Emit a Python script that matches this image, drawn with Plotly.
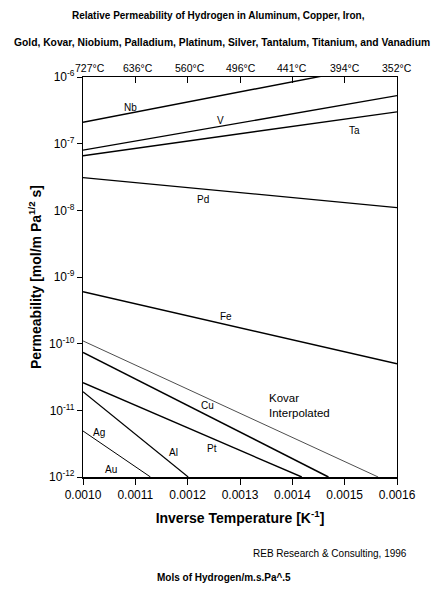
import plotly.graph_objects as go

# ---- data ----
materials = ["Nb", "V", "Ta", "Pd", "Fe", "Kovar", "Cu", "Pt", "Al", "Ag"]
x_start = [0.0010, 0.0010, 0.0010, 0.0010, 0.0010, 0.0010, 0.0010, 0.0010, 0.0010, 0.0010]
y_start = [2.1e-7, 8.0e-8, 6.6e-8, 3.1e-8, 6.0e-10, 1.1e-10, 7.4e-11, 2.6e-11, 1.9e-11, 4.9e-12]
x_end = [0.0016, 0.0016, 0.0016, 0.0016, 0.0016, 0.001564, 0.001469, 0.001418, 0.001201, 0.001129]
y_end = [1.7e-6, 5.25e-7, 3.0e-7, 1.1e-8, 5.0e-11, 1e-12, 1e-12, 1e-12, 1e-12, 1e-12]
line_widths = [1.4, 1.4, 1.4, 1.2, 1.4, 0.7, 1.6, 1.4, 1.2, 1.0]

label_text = ["Nb", "V", "Ta", "Pd", "Fe", "Kovar<br>Interpolated", "Cu", "Pt", "Al", "Ag", "Au"]
label_x = [0.00109, 0.001262, 0.001518, 0.001229, 0.001273, 0.001352, 0.001237, 0.0012465, 0.001172, 0.0010306, 0.0010535]
label_logy = [-6.45, -6.645, -6.795, -7.83, -9.598, -10.93, -10.93, -11.577, -11.637, -11.337, -11.892]
label_size = [10, 10, 10, 10, 10, 11.5, 10, 10, 10, 10, 10]

x_ticks = [0.0010, 0.0011, 0.0012, 0.0013, 0.0014, 0.0015, 0.0016]
x_tick_text = ["0.0010", "0.0011", "0.0012", "0.0013", "0.0014", "0.0015", "0.0016"]
top_tick_text = ["727°C", "636°C", "560°C", "496°C", "441°C", "394°C", "352°C"]
y_tick_exp = [-12, -11, -10, -9, -8, -7, -6]

FONT = "Liberation Sans, Arial, sans-serif"
W, H = 437, 593
ML, MR, MT, MB = 83, 40, 77, 116

fig = go.Figure()
for i, m in enumerate(materials):
    fig.add_trace(go.Scatter(
        x=[x_start[i], x_end[i]], y=[y_start[i], y_end[i]],
        mode="lines", line=dict(color="black", width=line_widths[i]),
        showlegend=False, hoverinfo="skip"))

# invisible trace so the top axis is drawn
fig.add_trace(go.Scatter(x=[x_ticks[0]], y=[1e-9], xaxis="x2", mode="markers",
                         marker=dict(opacity=0), showlegend=False, hoverinfo="skip"))

for t, lx, ly, ls in zip(label_text, label_x, label_logy, label_size):
    fig.add_annotation(x=lx, y=ly, text=t, showarrow=False,
                       xanchor="left" if "Kovar" in t else "center", align="left",
                       font=dict(family=FONT, size=ls, color="black"))

fig.update_layout(
    width=W, height=H,
    margin=dict(l=ML, r=MR, t=MT, b=MB),
    paper_bgcolor="white", plot_bgcolor="white",
    xaxis=dict(range=[0.0010, 0.0016], tickvals=x_ticks, ticktext=x_tick_text,
               ticks="outside", ticklen=6, tickcolor="black", showgrid=False, zeroline=False,
               showline=True, linecolor="black", linewidth=1.5,
               tickfont=dict(family=FONT, size=12, color="black"),
               title=dict(text="<b>Inverse Temperature [K<sup>-1</sup>]</b>", standoff=12,
                          font=dict(family=FONT, size=14, color="black"))),
    xaxis2=dict(range=[0.0010, 0.0016], overlaying="x", side="top",
                tickvals=x_ticks, showticklabels=False, ticks="inside", ticklen=6,
                tickcolor="black", showgrid=False, zeroline=False,
                showline=True, linecolor="black", linewidth=1.2),
    yaxis=dict(type="log", range=[-12, -6],
               tickvals=[10 ** e for e in y_tick_exp],
               ticktext=["10<sup>%d</sup>" % e for e in y_tick_exp],
               ticks="outside", ticklen=5, tickcolor="black", showgrid=False, zeroline=False,
               showline=True, linecolor="black", linewidth=1.2, mirror=True,
               tickfont=dict(family=FONT, size=12, color="black"),
               title=dict(text="<b>Permeability [mol/m Pa<sup>1/2</sup> s]</b>", standoff=4,
                          font=dict(family=FONT, size=14, color="black"))),
)


def ypx(py):
    return (H - MB - py) / (H - MT - MB)


def xpx(px):
    return (px - ML) / (W - ML - MR)


# top temperature labels
top_shift = [7, 3, 2, 1, 0, 0, 0]
for xv, t, s in zip(x_ticks, top_tick_text, top_shift):
    fig.add_annotation(x=xv, xref="x", yref="paper", y=ypx(68), text=t, showarrow=False,
                       xanchor="center", yanchor="middle", xshift=s,
                       font=dict(family=FONT, size=10.5, color="black"))

fig.add_annotation(xref="paper", yref="paper", x=xpx(218), y=ypx(16), xanchor="center", yanchor="middle",
                   text="<b>Relative Permeability of Hydrogen in Aluminum, Copper, Iron,</b>",
                   showarrow=False, font=dict(family=FONT, size=10, color="black"))
fig.add_annotation(xref="paper", yref="paper", x=xpx(222), y=ypx(42), xanchor="center", yanchor="middle",
                   text="<b>Gold, Kovar, Niobium, Palladium, Platinum, Silver, Tantalum, Titanium, and Vanadium</b>",
                   showarrow=False, font=dict(family=FONT, size=10.3, color="black"))
fig.add_annotation(xref="paper", yref="paper", x=xpx(409), y=ypx(553), xanchor="right", yanchor="middle",
                   text="REB Research & Consulting, 1996",
                   showarrow=False, font=dict(family=FONT, size=10, color="black"))
fig.add_annotation(xref="paper", yref="paper", x=xpx(224), y=ypx(577), xanchor="center", yanchor="middle",
                   text="<b>Mols of Hydrogen/m.s.Pa^.5</b>",
                   showarrow=False, font=dict(family=FONT, size=10, color="black"))

fig.write_html("out.html")
